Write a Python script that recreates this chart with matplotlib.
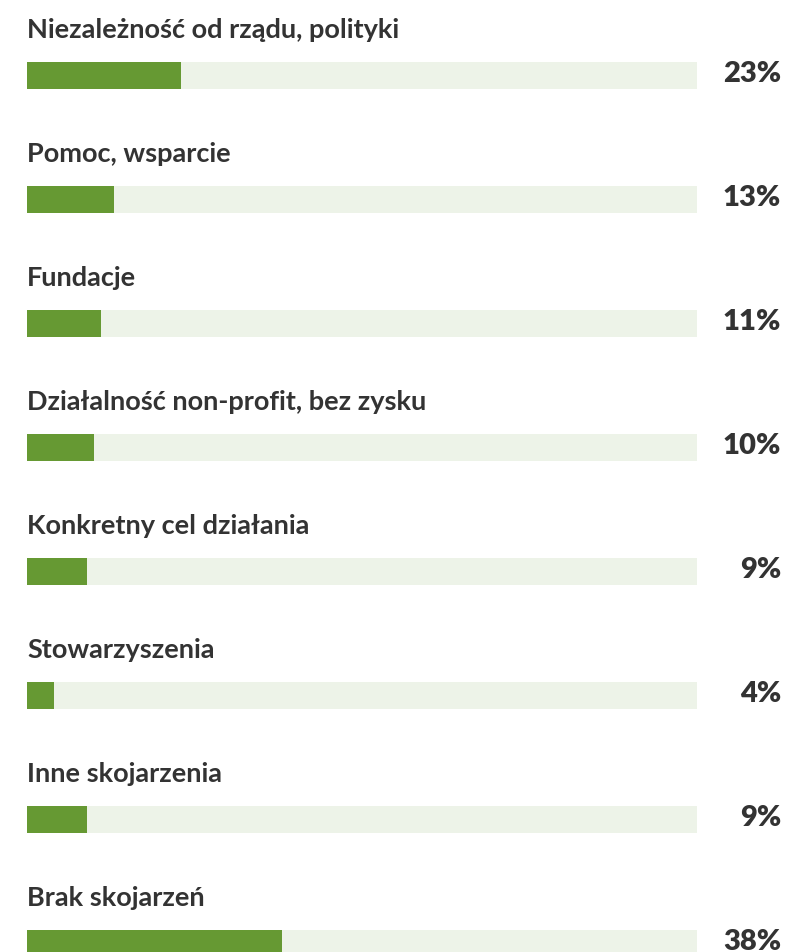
import matplotlib.pyplot as plt

labels = [
    "Niezależność od rządu, polityki",
    "Pomoc, wsparcie",
    "Fundacje",
    "Działalność non-profit, bez zysku",
    "Konkretny cel działania",
    "Stowarzyszenia",
    "Inne skojarzenia",
    "Brak skojarzeń",
]
values = [23, 13, 11, 10, 9, 4, 9, 38]

bar_color = "#669933"
track_color = "#edf3e8"
text_color = "#333333"

plt.rcParams['font.family'] = ['Lato', 'DejaVu Sans']

W, H = 791, 953
fig = plt.figure(figsize=(W / 100, H / 100), dpi=100)
# axes spans the bar track horizontally (27..697 px) and the full height
ax = fig.add_axes([27 / W, 0, 670 / W, 1])
ax.set_xlim(0, 100)
ax.set_ylim((H - 76) / 124, -76 / 124)
ax.axis('off')

bh = 27 / 124
for i, (lab, v) in enumerate(zip(labels, values)):
    ax.barh(i, 100, height=bh, left=0, color=track_color, linewidth=0)
    ax.barh(i, v, height=bh, left=0, color=bar_color, linewidth=0)
    ax.text(0, i - 0.375, lab, ha='left', va='center', fontsize=19.5,
            fontweight='bold', color=text_color)
    ax.text(100 + 84 / 6.7, i + 0.05, f"{v}%", ha='right', va='baseline',
            fontsize=21, fontweight='heavy', color=text_color)

fig.savefig("out.png", dpi=100)
